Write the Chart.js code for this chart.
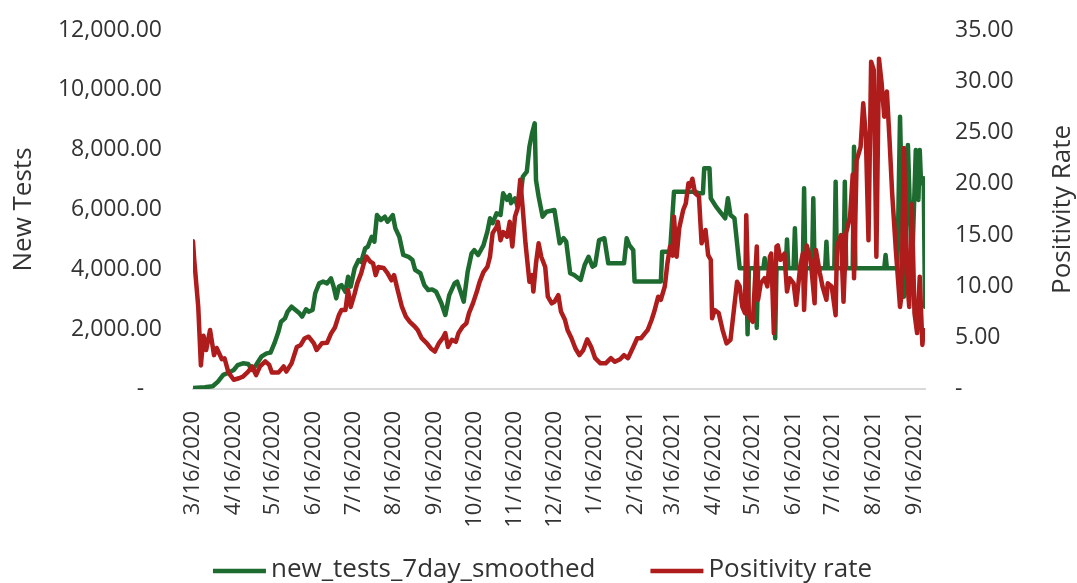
<!DOCTYPE html>
<html><head><meta charset="utf-8">
<script src="https://cdn.jsdelivr.net/npm/chart.js@4.4.0/dist/chart.umd.min.js"></script>
<style>html,body{margin:0;padding:0;background:#fff}#wrap{width:1077px;height:583px}</style>
</head><body><div id="wrap"><canvas id="c" width="1077" height="583"></canvas></div>
<script>
// Days are counted from 3/16/2020 (day 0)
const tickLabels = ['3/16/2020','4/16/2020','5/16/2020','6/16/2020','7/16/2020','8/16/2020','9/16/2020','10/16/2020','11/16/2020','12/16/2020','1/16/2021','2/16/2021','3/16/2021','4/16/2021','5/16/2021','6/16/2021','7/16/2021','8/16/2021','9/16/2021'];

const testDays = [0,9,15,19,23,27,31,34,38,42,45,48,52,56,59,62,65,67,70,72,75,78,81,83,86,88,91,93,96,99,102,105,107,109,111,113,116,118,120,123,126,128,131,133,136,138,140,143,146,148,152,154,157,160,164,167,169,173,176,179,182,185,189,192,195,199,201,204,206,209,212,214,217,221,224,226,228,231,234,236,239,241,242,245,247,249,251,254,256,258,260,261,263,266,269,275,277,279,282,284,287,290,295,298,301,304,306,309,313,316,328,330,332,335,336,356,357,363,366,382,385,388,389,393,394,398,402,405,407,409,412,416,421,422,423,428,429,430,434,435,436,442,443,444,451,452,453,457,458,459,464,465,466,471,472,473,481,482,483,488,489,490,495,496,497,502,503,504,526,527,528,536,538,541,544,547,550,552,553,554,556,557];
const testValues = [30,60,90,245,470,545,635,800,860,835,635,800,1080,1190,1215,1530,1915,2250,2360,2585,2750,2640,2530,2420,2665,2585,2640,3200,3530,3590,3530,3700,3420,3030,3420,3475,3250,3750,3420,4035,4310,4250,4700,4755,5090,4925,5815,5650,5760,5590,5815,5370,5090,4480,4420,4310,3980,3870,3475,3310,3330,3250,2865,2475,3140,3530,3590,3200,2920,3920,4535,4645,4480,4800,5260,5705,5540,5870,5815,6540,6320,6485,6210,6375,6095,6375,7100,7265,8100,8545,8880,6985,6430,5760,5925,5985,5425,4870,5040,4925,3870,3810,3645,4145,4420,4090,4145,4980,5040,4200,4200,5040,4810,4645,3590,3590,4590,4590,6595,6595,6540,6540,7380,7380,6375,6095,5870,5705,6375,5815,5705,4035,4035,1830,4035,4035,2050,4035,4035,4370,4035,4035,1695,4035,4035,5000,4035,4035,5370,4035,4035,6710,4035,4035,6375,4035,4035,4925,4035,4035,6930,4035,4035,6930,4035,4035,8100,4035,4035,4480,4035,4035,9100,3085,8155,3880,7990,6320,7990,6880,7045,2750];

const rateDays = [0,1,3,4,6,8,10,13,16,18,22,24,27,31,35,38,42,45,48,51,55,58,60,65,69,71,75,79,82,85,88,92,94,98,102,105,108,111,113,116,118,120,123,125,128,130,132,135,137,139,141,145,148,151,153,156,159,162,165,169,171,174,178,181,184,187,190,192,194,197,200,202,205,208,210,213,216,218,221,224,226,228,231,232,234,236,239,241,243,245,247,249,251,253,256,258,259,261,263,265,268,270,273,275,278,280,283,285,288,291,294,297,300,303,306,310,314,318,321,325,328,331,335,338,341,344,346,349,351,354,356,359,361,363,365,366,368,370,373,375,377,378,380,382,385,387,390,392,394,395,397,400,403,406,409,411,414,416,418,420,421,423,426,429,430,432,435,437,439,440,442,444,445,447,450,452,454,457,459,462,464,465,467,470,473,474,477,479,482,483,486,489,490,493,495,497,500,502,503,505,508,510,512,514,516,518,520,522,524,526,528,530,532,535,538,539,541,543,545,547,549,551,553,555,556];
const rateValues = [14.4,12.5,9.5,8.0,2.3,5.2,3.8,5.75,3.3,4.0,2.9,3.0,1.6,0.9,1.05,1.2,1.7,2.2,1.35,2.2,2.7,2.35,1.6,1.6,2.2,1.7,2.5,4.1,4.3,4.95,5.1,4.45,3.8,4.45,4.5,5.4,6.0,7.2,7.7,7.7,9.65,8.0,9.3,10.3,11.3,12.25,12.9,12.4,12.25,11.1,11.9,11.8,11.3,10.6,11.1,9.5,8.0,7.05,6.55,6.05,5.75,4.95,4.45,3.95,3.65,4.45,4.95,5.45,4.1,4.8,4.6,5.45,6.05,6.4,7.4,8.35,9.5,10.4,11.4,11.9,12.9,15.2,15.8,16.3,14.5,15.3,14.85,16.3,13.9,16.8,17.6,20.4,17.45,14.2,10.45,11.1,9.5,12.25,14.2,12.9,11.9,9.0,8.35,8.5,9.15,7.55,6.75,5.75,4.95,3.95,3.3,3.8,4.85,4.1,3.0,2.5,2.5,3.0,2.65,2.9,3.3,3.0,4.1,4.95,4.95,5.45,5.75,6.75,7.55,9.0,8.7,10.0,12.25,13.9,13.0,16.8,12.9,15.7,17.45,18.1,20.05,19.7,20.5,19.1,18.75,14.2,15.5,13.05,12.6,6.9,7.7,7.4,5.75,4.45,4.8,7.05,10.45,10.0,8.0,7.4,16.95,7.05,6.55,13.9,8.7,10.3,10.8,10.0,12.9,13.2,5.45,13.9,14.0,12.6,13.2,9.5,10.8,10.3,8.2,11.9,13.2,7.7,14.0,12.6,8.35,13.55,11.3,10.0,8.7,10.3,10.0,7.2,13.9,15.0,8.5,15.2,16.8,20.9,10.8,22.3,23.6,27.85,24.6,14.5,31.9,31.1,12.9,32.2,29.8,26.55,29.0,24.3,19.1,13.2,8.0,9.0,23.5,11.3,8.0,18.0,7.4,5.45,10.95,4.3,5.75];

const leftTitle = 'New Tests';
const rightTitle = 'Positivity Rate';

function dayIndex(label) {
  const p = label.split('/').map(Number);
  return Math.round((Date.UTC(p[2], p[0] - 1, p[1]) - Date.UTC(2020, 2, 16)) / 86400000);
}
const tickDays = tickLabels.map(dayIndex);

const GREEN = '#1E6B30', RED = '#AE1C1C', TEXT = '#333333';
const FONT = '"Open Sans", sans-serif';
Chart.defaults.font.family = FONT;
Chart.defaults.color = TEXT;
const fmt2 = v => v.toLocaleString('en-US', {minimumFractionDigits: 2, maximumFractionDigits: 2});

const rightTitlePlugin = {
  id: 'rightTitle',
  afterDraw(chart) {
    const s = chart.scales.y1, a = chart.chartArea, ctx = chart.ctx;
    ctx.save();
    ctx.translate(s.right - 14, (a.top + a.bottom) / 2);
    ctx.rotate(-Math.PI / 2);
    ctx.font = '26px ' + FONT;
    ctx.fillStyle = TEXT;
    ctx.textAlign = 'center';
    ctx.textBaseline = 'middle';
    ctx.fillText(rightTitle, 0, 0);
    ctx.restore();
  }
};
const legendPlugin = {
  id: 'lineLegend',
  afterDraw(chart) {
    const ctx = chart.ctx;
    ctx.save();
    ctx.font = '26px ' + FONT;
    const items = chart.data.datasets.map(ds => ({text: ds.label, color: ds.borderColor, w: ctx.measureText(ds.label).width}));
    const lineLen = 53, gapText = 5, gapItem = 55;
    const total = items.reduce((s, it) => s + lineLen + gapText + it.w, 0) + gapItem * (items.length - 1);
    let x = chart.width / 2 + 4 - total / 2;
    const y = 571;
    items.forEach(it => {
      ctx.strokeStyle = it.color; ctx.lineWidth = 4.5; ctx.lineCap = 'butt';
      ctx.beginPath(); ctx.moveTo(x, y); ctx.lineTo(x + lineLen, y); ctx.stroke();
      ctx.fillStyle = TEXT; ctx.textAlign = 'left'; ctx.textBaseline = 'middle';
      ctx.fillText(it.text, x + lineLen + gapText, y - 1);
      x += lineLen + gapText + it.w + gapItem;
    });
    ctx.restore();
  }
};

new Chart(document.getElementById('c'), {
  type: 'line',
  data: {
    datasets: [
      {label: 'new_tests_7day_smoothed', data: testDays.map((d, i) => ({x: d, y: testValues[i]})), yAxisID: 'y',
       borderColor: GREEN, backgroundColor: GREEN, borderWidth: 4.5, pointRadius: 0, tension: 0, order: 2,
       borderJoinStyle: 'round', borderCapStyle: 'round'},
      {label: 'Positivity rate', data: rateDays.map((d, i) => ({x: d, y: rateValues[i]})), yAxisID: 'y1',
       borderColor: RED, backgroundColor: RED, borderWidth: 4.5, pointRadius: 0, tension: 0, order: 1,
       borderJoinStyle: 'round', borderCapStyle: 'round'}
    ]
  },
  options: {
    responsive: false, animation: false, events: [],
    layout: {padding: {top: 30, left: 0, right: 0, bottom: 52}},
    scales: {
      x: {type: 'linear', min: 0, max: 557,
          grid: {display: false, drawTicks: false},
          border: {display: true, color: '#d9d9d9', width: 2},
          afterBuildTicks: ax => { ax.ticks = tickDays.map(v => ({value: v})); },
          afterFit: ax => { ax.height = 142; },
          ticks: {autoSkip: false, minRotation: 90, maxRotation: 90, padding: 22, font: {size: 22}, color: TEXT,
                  callback: (v, i) => tickLabels[i]}},
      y: {position: 'left', min: 0, max: 12000,
          grid: {display: false, drawTicks: true, tickLength: 28}, border: {display: false},
          ticks: {stepSize: 2000, padding: 3, font: {size: 23}, color: TEXT,
                  callback: v => v === 0 ? '-   ' : fmt2(v)},
          title: {display: true, text: leftTitle, font: {size: 26}, color: TEXT, padding: {top: 8, bottom: 0}},
          afterFit: ax => { ax.width = 193; }},
      y1: {position: 'right', min: 0, max: 35,
          grid: {display: false, drawTicks: true, tickLength: 27}, border: {display: false},
          ticks: {stepSize: 5, padding: 3, font: {size: 23}, color: TEXT,
                  callback: v => v === 0 ? '-' : fmt2(v)},
          afterFit: ax => { ax.width = 152; }}
    },
    plugins: {
      tooltip: {enabled: false},
      legend: {display: false}
    }
  },
  plugins: [rightTitlePlugin, legendPlugin]
});
</script>
</body></html>
